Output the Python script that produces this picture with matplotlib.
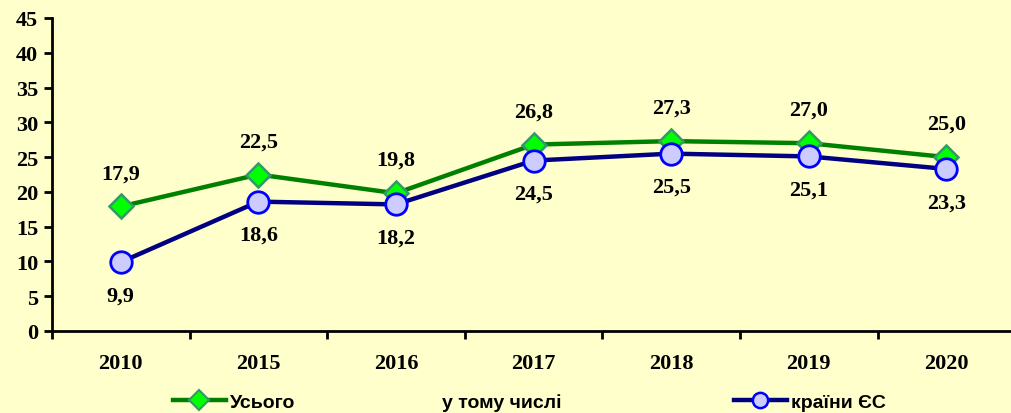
import matplotlib.pyplot as plt
from matplotlib.lines import Line2D

years = ['2010', '2015', '2016', '2017', '2018', '2019', '2020']
total = [17.9, 22.5, 19.8, 26.8, 27.3, 27.0, 25.0]
eu = [9.9, 18.6, 18.2, 24.5, 25.5, 25.1, 23.3]

bg = '#FFFFCC'
serif = ['Liberation Serif', 'DejaVu Serif']
sans = ['Liberation Sans', 'DejaVu Sans']

fig = plt.figure(figsize=(10.11, 4.14), dpi=100, facecolor=bg)
ax = fig.add_axes([52 / 1011, 82 / 414, 959 / 1011, 313 / 414])
ax.set_facecolor(bg)

x = list(range(len(years)))
ax.plot(x, total, color='#008000', lw=3.2, marker='D', markersize=12,
        markerfacecolor='#00FF00', markeredgecolor='#339966', markeredgewidth=1.8,
        zorder=3)
ax.plot(x, eu, color='#000080', lw=3.2, marker='o', markersize=15.5,
        markerfacecolor='#CCCCFF', markeredgecolor='#0000FF', markeredgewidth=2,
        zorder=4)

for xi, v in zip(x, total):
    ax.annotate(f'{v:.1f}'.replace('.', ','), (xi, v), xytext=(0, 24),
                textcoords='offset points', ha='center', va='center',
                fontsize=16, fontweight='bold', family=serif)
for xi, v in zip(x, eu):
    ax.annotate(f'{v:.1f}'.replace('.', ','), (xi, v), xytext=(0, -24),
                textcoords='offset points', ha='center', va='center',
                fontsize=16, fontweight='bold', family=serif)

ax.set_xlim(-0.5, 6.47)
ax.set_ylim(0, 45)
ax.set_yticks(range(0, 46, 5))
ax.set_xticks(x)
ax.set_xticklabels(years)
ax.set_xticks([i + 0.5 for i in range(-1, 6)], minor=True)
ax.tick_params(axis='x', which='major', length=0, pad=16)
ax.tick_params(axis='x', which='minor', length=6, width=2, direction='out')
ax.tick_params(axis='y', length=6, width=2, direction='out', pad=4)
for lab in ax.get_xticklabels() + ax.get_yticklabels():
    lab.set_fontsize(16)
    lab.set_fontweight('bold')
    lab.set_family(serif)

for s in ['top', 'right']:
    ax.spines[s].set_visible(False)
for s in ['left', 'bottom']:
    ax.spines[s].set_linewidth(2)

h_total = Line2D([], [], color='#008000', lw=3.2, marker='D', markersize=10,
                 markerfacecolor='#00FF00', markeredgecolor='#339966', markeredgewidth=1.5)
h_blank = Line2D([], [], color='none')
h_eu = Line2D([], [], color='#000080', lw=3.2, marker='o', markersize=11,
              markerfacecolor='#CCCCFF', markeredgecolor='#0000FF', markeredgewidth=1.8)

legend_items = [(h_total, 'Усього', 173), (h_blank, 'у тому числі', 385),
                (h_eu, 'країни ЄС', 734)]
for h, lab, px in legend_items:
    fig.legend([h], [lab], loc='center left', bbox_to_anchor=(px / 1011, 11 / 414),
               frameon=False, handlelength=2.7, handletextpad=0.25,
               borderaxespad=0, borderpad=0,
               prop={'family': sans, 'weight': 'bold', 'size': 14})

fig.savefig('out.png', dpi=100, facecolor=bg)
